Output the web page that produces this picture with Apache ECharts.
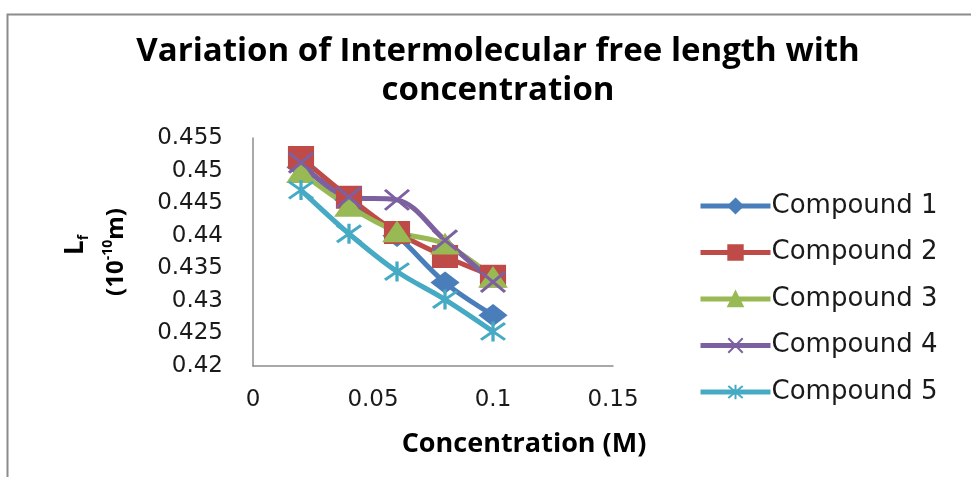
<!DOCTYPE html>
<html>
<head>
<meta charset="utf-8">
<script src="https://cdn.jsdelivr.net/npm/echarts@6/dist/echarts.min.js"></script>
<style>
  html, body { margin: 0; padding: 0; background: #fff; }
  #chart { width: 971px; height: 477px; }
</style>
</head>
<body>
<div id="chart"></div>
<script>
const concentration = [0.02, 0.04, 0.06, 0.08, 0.1];
const compound1 = [0.4505, 0.4455, 0.4400, 0.4328, 0.4278];
const compound2 = [0.4520, 0.4459, 0.4405, 0.4368, 0.4338];
const compound3 = [0.4497, 0.4445, 0.4406, 0.4387, 0.4336];
const compound4 = [0.4512, 0.4459, 0.4455, 0.4393, 0.4329];
const compound5 = [0.4470, 0.4403, 0.4345, 0.4302, 0.4253];
const xTicks = [0, 0.05, 0.1, 0.15];
const yTicks = [0.42, 0.425, 0.43, 0.435, 0.44, 0.445, 0.45, 0.455];

const xMark = "path://M0,0L10,10M10,0L0,10";
const starMark = "path://M0,0L10,10M10,0L0,10M5,-1L5,11";

const seriesDefs = [
  { name: "Compound 1", data: compound1, color: "#4A7EBB", symbol: "diamond", size: [26, 20], border: 2 },
  { name: "Compound 2", data: compound2, color: "#BE4B48", symbol: "rect", size: [24, 21], border: 2 },
  { name: "Compound 3", data: compound3, color: "#98B954", symbol: "triangle", size: [26, 19], border: 2 },
  { name: "Compound 4", data: compound4, color: "#7D60A0", symbol: xMark, size: [24, 20], border: 3 },
  { name: "Compound 5", data: compound5, color: "#46AAC5", symbol: starMark, size: [24, 20], border: 3 }
];

const chart = echarts.init(document.getElementById("chart"), null, { renderer: "canvas" });

const font = "DejaVu Sans";
const boldFont = "Open Sans";

chart.setOption({
  animation: false,
  backgroundColor: "#fff",
  title: {
    text: "Variation of Intermolecular free length with\nconcentration",
    left: 493,
    textAlign: "center",
    top: 27,
    textStyle: {
      fontFamily: boldFont,
      fontWeight: "bold",
      fontSize: 33,
      lineHeight: 39,
      color: "#000"
    }
  },
  graphic: [
    {
      type: "rect",
      left: 5,
      top: 12,
      shape: { width: 1000, height: 500 },
      style: { fill: "none", stroke: "#8c8c8c", lineWidth: 2 },
      silent: true
    },
    {
      type: "text",
      x: 524,
      y: 444,
      style: {
        text: "Concentration (M)",
        align: "center",
        verticalAlign: "middle",
        fontFamily: boldFont,
        fontWeight: "bold",
        fontSize: 27,
        fill: "#000"
      }
    },
    {
      type: "text",
      x: 76,
      y: 245,
      rotation: Math.PI / 2,
      style: {
        text: "{b|L}{sub|f}",
        align: "center",
        verticalAlign: "middle",
        rich: {
          b: { fontFamily: boldFont, fontWeight: "bold", fontSize: 26, lineHeight: 30, fill: "#000" },
          sub: { fontFamily: boldFont, fontWeight: "bold", fontSize: 14, lineHeight: 14, verticalAlign: "bottom", fill: "#000" }
        }
      }
    },
    {
      type: "text",
      x: 116,
      y: 252,
      rotation: Math.PI / 2,
      style: {
        text: "{b|(10}{sup|-10}{b|m)}",
        align: "center",
        verticalAlign: "middle",
        rich: {
          b: { fontFamily: boldFont, fontWeight: "bold", fontSize: 24, lineHeight: 30, fill: "#000" },
          sup: { fontFamily: boldFont, fontWeight: "bold", fontSize: 14, lineHeight: 14, verticalAlign: "top", fill: "#000" }
        }
      }
    }
  ],
  legend: {
    orient: "vertical",
    left: 693,
    top: 188,
    itemWidth: 70,
    itemHeight: 18,
    itemGap: 20.5,
    lineStyle: { width: 5 },
    textStyle: { fontFamily: font, fontSize: 26, color: "#1a1a1a", padding: [0, 0, 0, -4] },
    data: seriesDefs.map(s => s.name)
  },
  grid: { left: 253, top: 138, right: 358, bottom: 111, containLabel: false },
  xAxis: {
    type: "value",
    min: xTicks[0],
    max: xTicks[xTicks.length - 1],
    interval: 0.05,
    axisLine: { lineStyle: { color: "#8c8c8c", width: 1.5 } },
    axisTick: { show: false },
    splitLine: { show: false },
    axisLabel: {
      margin: 23,
      fontFamily: font,
      fontSize: 23,
      color: "#1a1a1a",
      formatter: v => String(+v.toFixed(2))
    }
  },
  yAxis: {
    type: "value",
    min: yTicks[0],
    max: yTicks[yTicks.length - 1],
    interval: 0.005,
    axisLine: { show: true, lineStyle: { color: "#8c8c8c", width: 1.5 } },
    axisTick: { show: false },
    splitLine: { show: false },
    axisLabel: {
      margin: 30,
      fontFamily: font,
      fontSize: 23,
      color: "#1a1a1a",
      formatter: v => String(+v.toFixed(3))
    }
  },
  series: seriesDefs.map(s => ({
    name: s.name,
    type: "line",
    smooth: 0.35,
    symbol: s.symbol,
    symbolSize: s.size,
    data: concentration.map((c, i) => [c, s.data[i]]),
    lineStyle: { color: s.color, width: 5 },
    itemStyle: { color: s.color, borderColor: s.color, borderWidth: s.border }
  }))
});
</script>
</body>
</html>
